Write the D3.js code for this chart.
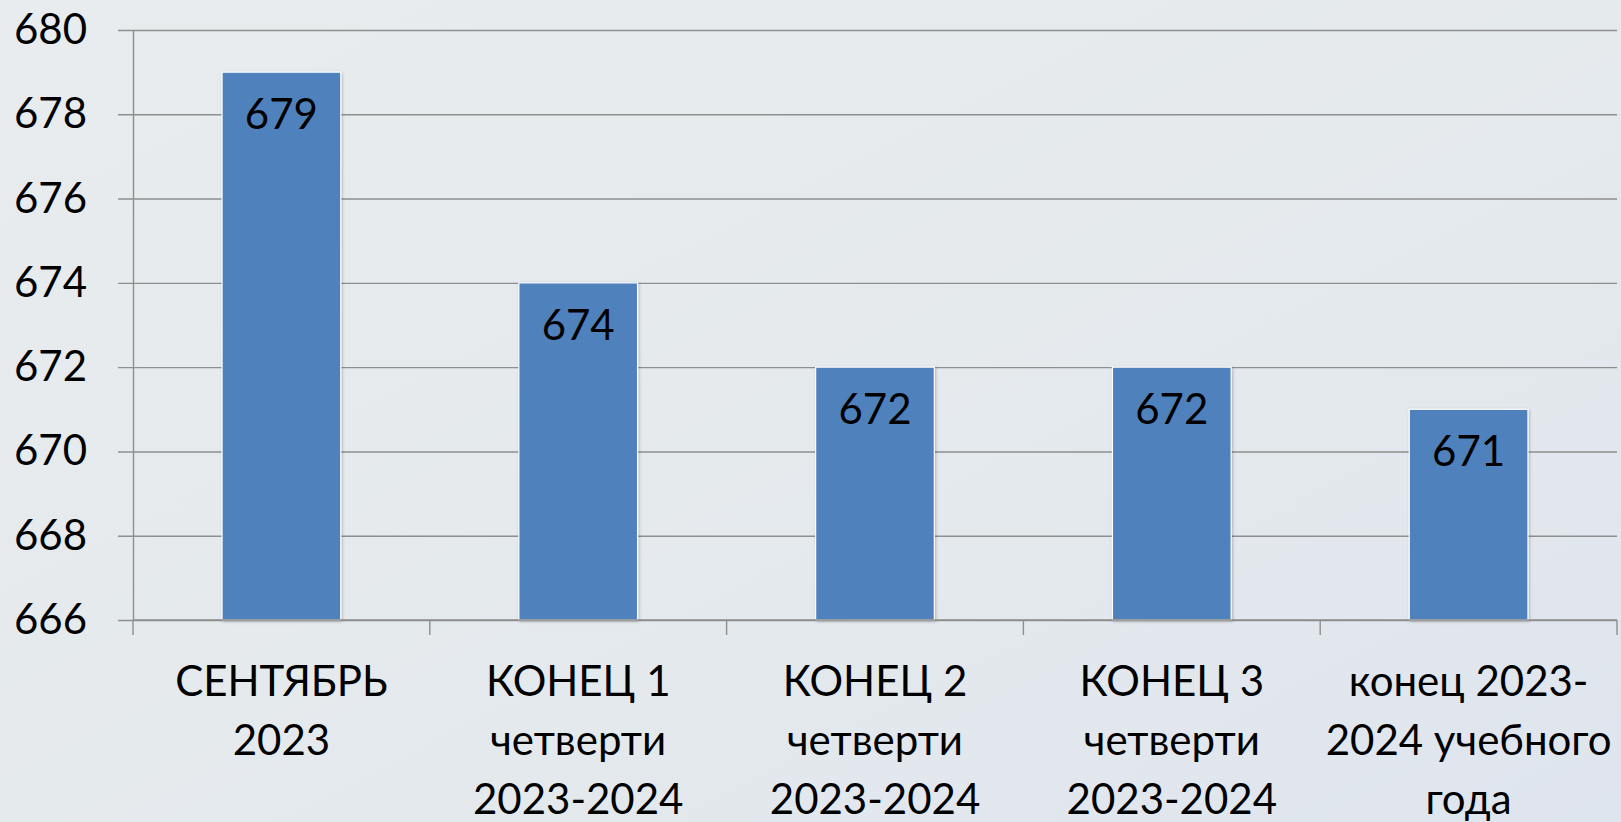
<!DOCTYPE html>
<meta charset="utf-8">
<style>
body { margin: 0; overflow: hidden; }
text { font-family: Lato, "Open Sans", sans-serif; fill: #000; }
</style>
<body>
<script src="https://d3js.org/d3.v7.min.js"></script>
<script>
// categories (already split into lines like the original)
var categories = ["sep", "q1", "q2", "q3", "year"];
var categoryLines = [
  ["СЕНТЯБРЬ", "2023"],
  ["КОНЕЦ 1", "четверти", "2023-2024"],
  ["КОНЕЦ 2", "четверти", "2023-2024"],
  ["КОНЕЦ 3", "четверти", "2023-2024"],
  ["конец 2023-", "2024 учебного", "года"]
];
var values = [679, 674, 672, 672, 671];
var yTicks = [666, 668, 670, 672, 674, 676, 678, 680];

var W = 1621, H = 822;
var margin = {top: 30, right: 4, bottom: 202, left: 133};
var width = W - margin.left - margin.right,
    height = H - margin.top - margin.bottom;

var svg = d3.select("body").append("svg")
    .attr("width", W)
    .attr("height", H);

// background
var defs = svg.append("defs");
var grad = defs.append("linearGradient")
    .attr("id", "bg")
    .attr("x1", "0").attr("y1", "0").attr("x2", "1").attr("y2", "1");
grad.append("stop").attr("offset", "0%").attr("stop-color", "#e8ecee");
grad.append("stop").attr("offset", "60%").attr("stop-color", "#e4e9ed");
grad.append("stop").attr("offset", "100%").attr("stop-color", "#dfe5ee");

var shadow = defs.append("filter").attr("id", "shadow")
    .attr("x", "-10%").attr("y", "-10%").attr("width", "120%").attr("height", "120%");
shadow.append("feDropShadow")
    .attr("dx", 1).attr("dy", 1).attr("stdDeviation", 1.5)
    .attr("flood-color", "#000").attr("flood-opacity", 0.25);

svg.append("rect").attr("width", W).attr("height", H).attr("fill", "url(#bg)");

var g = svg.append("g")
    .attr("transform", "translate(" + margin.left + "," + margin.top + ")");

var x = d3.scaleBand().domain(categories).range([0, width]).paddingInner(0.6).paddingOuter(0.3);
var xTicks = d3.scaleBand().domain(categories).range([0, width]);
var y = d3.scaleLinear().domain([666, 680]).range([height, 0]);

// y axis with gridlines
var yAxis = g.append("g")
    .call(d3.axisLeft(y).tickValues(yTicks).tickSize(-width).tickSizeOuter(0).tickPadding(46));
yAxis.select(".domain").attr("stroke", "#8e8e8e").attr("stroke-width", 1.4);
yAxis.selectAll(".tick line")
    .attr("x1", -15)
    .attr("stroke", "#8e8e8e").attr("stroke-width", 1.4);
yAxis.selectAll(".tick text")
    .style("font-size", "42px")
    .style("font-family", "Lato, 'Open Sans', sans-serif")
    .attr("fill", "#000");

// bars
g.selectAll(".bar")
    .data(values)
    .enter().append("rect")
    .attr("class", "bar")
    .attr("x", function(d, i) { return x(categories[i]); })
    .attr("y", function(d) { return y(d); })
    .attr("width", x.bandwidth())
    .attr("height", function(d) { return height - y(d); })
    .attr("fill", "#4f81bd")
    .attr("stroke", "#ffffff")
    .attr("stroke-width", 1.2)
    .attr("filter", "url(#shadow)");

// value labels
g.selectAll(".val")
    .data(values)
    .enter().append("text")
    .attr("x", function(d, i) { return x(categories[i]) + x.bandwidth() / 2; })
    .attr("y", function(d) { return y(d) + 57; })
    .attr("text-anchor", "middle")
    .style("font-size", "42px")
    .text(function(d) { return d; });

// x axis line and category ticks
g.append("line")
    .attr("x1", 0).attr("x2", width)
    .attr("y1", height).attr("y2", height)
    .attr("stroke", "#8e8e8e").attr("stroke-width", 1.4);

var edges = categories.map(function(c) { return xTicks(c); }).concat([width]);
g.selectAll(".xtick")
    .data(edges)
    .enter().append("line")
    .attr("x1", function(d) { return d; }).attr("x2", function(d) { return d; })
    .attr("y1", height).attr("y2", height + 15)
    .attr("stroke", "#8e8e8e").attr("stroke-width", 1.4);

// category labels
var labels = g.selectAll(".cat")
    .data(categoryLines)
    .enter().append("text")
    .attr("text-anchor", "middle")
    .attr("transform", function(d, i) {
      return "translate(" + (xTicks(categories[i]) + xTicks.bandwidth() / 2) + "," + (height + 76) + ")";
    })
    .style("font-size", "42px");
labels.selectAll("tspan")
    .data(function(d) { return d; })
    .enter().append("tspan")
    .attr("x", 0)
    .attr("y", function(d, j) { return j * 59; })
    .text(function(d) { return d; });
</script>
</body>
